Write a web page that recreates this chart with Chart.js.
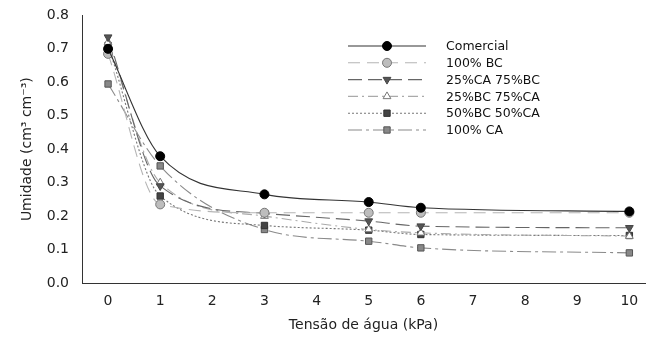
<!DOCTYPE html>
<html lang="pt">
<head>
  <meta charset="UTF-8" />
  <title>Umidade x Tensão de água</title>
  <script src="https://cdn.jsdelivr.net/npm/chart.js"></script>
  <style>
    html, body { margin: 0; padding: 0; background: #fff; }
    #wrap { width: 654px; height: 343px; position: relative; }
  </style>
</head>
<body>
  <div id="wrap"><canvas id="curva"></canvas></div>

  <script>
    // tensão (kPa)
    const tensoes = [0, 1, 3, 5, 6, 10];

    const comercial   = [0.700, 0.379, 0.265, 0.242, 0.225, 0.214];
    const bc100       = [0.685, 0.235, 0.210, 0.210, 0.210, 0.210];
    const ca25bc75    = [0.735, 0.290, 0.208, 0.185, 0.170, 0.165];
    const bc25ca75    = [0.720, 0.300, 0.200, 0.160, 0.150, 0.140];
    const bc50ca50    = [0.710, 0.260, 0.172, 0.158, 0.145, 0.142];
    const ca100       = [0.595, 0.350, 0.160, 0.125, 0.105, 0.090];

    const yTicks = [0, 0.1, 0.2, 0.3, 0.4, 0.5, 0.6, 0.7, 0.8];
    const xTicks = [0, 1, 2, 3, 4, 5, 6, 7, 8, 9, 10];

    const fonte = "'DejaVu Sans', Verdana, sans-serif";
    const pts = vals => tensoes.map((t, i) => ({ x: t, y: vals[i] }));

    function serie(label, vals, cor, dash, estilo, fundo, borda, rot) {
      return {
        label: label,
        data: pts(vals),
        borderColor: cor,
        borderWidth: 1.1,
        borderDash: dash,
        cubicInterpolationMode: "monotone",
        pointStyle: estilo,
        pointRotation: rot || 0,
        pointRadius: 4.5,
        pointBackgroundColor: fundo,
        pointBorderColor: borda,
        pointBorderWidth: 1
      };
    }

    const datasets = [
      serie("Comercial", comercial, "#333", [], "circle", "#000", "#000"),
      serie("100% BC", bc100, "#b5b5b5", [12, 7], "circle", "#bdbdbd", "#777"),
      serie("25%CA 75%BC", ca25bc75, "#666", [14, 6], "triangle", "#555", "#444", 180),
      serie("25%BC 75%CA", bc25ca75, "#aaa", [10, 4, 2, 4], "triangle", "#fff", "#777"),
      serie("50%BC 50%CA", bc50ca50, "#777", [2, 2], "rect", "#444", "#333"),
      serie("100% CA", ca100, "#8a8a8a", [14, 4, 3, 4], "rect", "#888", "#555")
    ];

    // legenda desenhada dentro da área do gráfico
    const legendaPlugin = {
      id: "legenda",
      afterDraw(chart) {
        const ctx = chart.ctx;
        ctx.save();
        chart.data.datasets.forEach((ds, i) => {
          const y = 46 + i * 16.8;
          ctx.strokeStyle = ds.borderColor;
          ctx.lineWidth = ds.borderWidth;
          ctx.setLineDash(ds.borderDash);
          ctx.beginPath();
          ctx.moveTo(348, y);
          ctx.lineTo(426, y);
          ctx.stroke();
          ctx.setLineDash([]);
          ctx.fillStyle = ds.pointBackgroundColor;
          ctx.strokeStyle = ds.pointBorderColor;
          ctx.lineWidth = 1;
          Chart.helpers.drawPoint(ctx, {
            pointStyle: ds.pointStyle,
            rotation: ds.pointRotation,
            radius: 4.5,
            borderWidth: 1
          }, 387, y);
          ctx.fillStyle = "#111";
          ctx.font = "12.5px " + fonte;
          ctx.textBaseline = "middle";
          ctx.textAlign = "left";
          ctx.fillText(ds.label, 446, y + 1);
        });
        ctx.restore();
      }
    };

    new Chart(document.getElementById("curva"), {
      type: "line",
      data: { datasets: datasets },
      options: {
        responsive: true,
        maintainAspectRatio: false,
        animation: false,
        layout: { padding: { left: 19, top: 15, right: 9, bottom: 9 } },
        plugins: { legend: { display: false }, tooltip: { enabled: false } },
        scales: {
          x: {
            type: "linear",
            min: -0.5,
            max: 10.3,
            afterBuildTicks: s => { s.ticks = xTicks.map(v => ({ value: v })); },
            afterFit: s => { s.height = 51; },
            grid: { display: false, drawTicks: true, tickLength: 6, tickColor: "#333" },
            border: { color: "#333", width: 1 },
            ticks: {
              color: "#222",
              padding: 4,
              font: { family: fonte, size: 14 }
            },
            title: {
              display: true,
              text: "Tensão de água (kPa)",
              color: "#222",
              padding: { top: 6, bottom: 0 },
              font: { family: fonte, size: 14 }
            }
          },
          y: {
            min: 0,
            max: 0.8,
            afterBuildTicks: s => { s.ticks = yTicks.map(v => ({ value: v })); },
            afterFit: s => { s.width = 63; },
            grid: { display: false, drawTicks: true, tickLength: 6, tickColor: "#333" },
            border: { color: "#333", width: 1 },
            ticks: {
              color: "#222",
              padding: 7,
              callback: v => v.toFixed(1),
              font: { family: fonte, size: 14 }
            },
            title: {
              display: true,
              text: "Umidade (cm³ cm⁻³)",
              color: "#222",
              padding: { top: 0, bottom: 4 },
              font: { family: fonte, size: 14 }
            }
          }
        }
      },
      plugins: [legendaPlugin]
    });
  </script>
</body>
</html>
